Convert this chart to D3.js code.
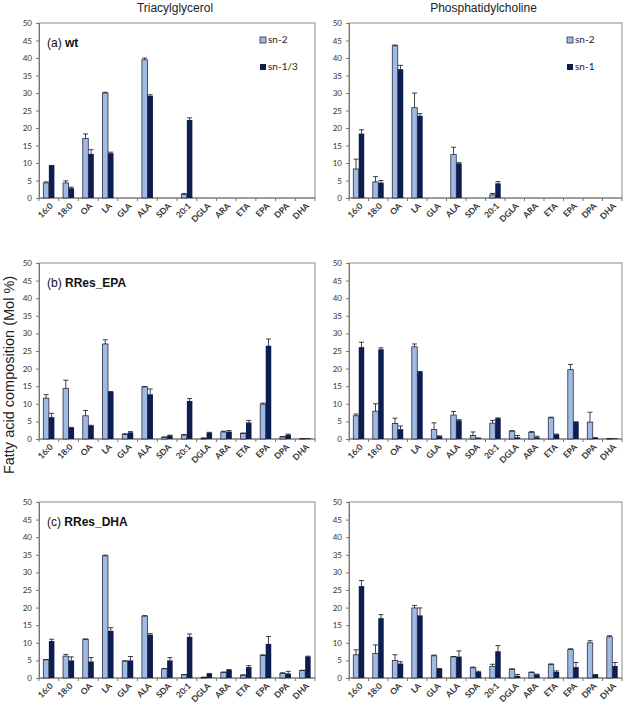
<!DOCTYPE html>
<html><head><meta charset="utf-8">
<script src="https://cdn.jsdelivr.net/npm/d3@7"></script>
<style>body{margin:0;background:#fff}svg{display:block}</style>
</head><body>
<svg id="c" width="625" height="706"></svg>
<script>
const categories = ["16:0","18:0","OA","LA","GLA","ALA","SDA","20:1","DGLA","ARA","ETA","EPA","DPA","DHA"];
const yTicks = [0,5,10,15,20,25,30,35,40,45,50];
const colTitles = ["Triacylglycerol","Phosphatidylcholine"];
const legendTAG = ["sn-2","sn-1/3"];
const legendPC = ["sn-2","sn-1"];
const rowLabels = [["(a) ","wt"],["(b) ","RRes_EPA"],["(c) ","RRes_DHA"]];

// (a) wt
const wtTAG_sn2      = [4.3,4.3,17.0,30.0,0,39.5,0,1.0,0,0,0,0,0,0];
const wtTAG_sn2_err  = [0.3,0.6,1.3,0.2,0,0.5,0,0.3,0,0,0,0,0,0];
const wtTAG_sn13     = [9.3,2.8,12.6,12.8,0,29.2,0,22.3,0,0,0,0,0,0];
const wtTAG_sn13_err = [0,0.3,1.2,0.3,0,0.3,0,0.6,0,0,0,0,0,0];
const wtPC_sn2       = [8.3,4.6,43.5,25.8,0,12.4,0,0.9,0,0,0,0,0,0];
const wtPC_sn2_err   = [2.8,1.5,0.2,4.2,0,2.1,0,0.4,0,0,0,0,0,0];
const wtPC_sn1       = [18.4,4.4,36.8,23.5,0,9.9,0,4.2,0,0,0,0,0,0];
const wtPC_sn1_err   = [1.1,0.6,1.1,0.6,0,0.2,0,0.5,0,0,0,0,0,0];
// (b) RRes_EPA
const epaTAG_sn2      = [11.6,14.4,6.6,27.0,1.3,14.8,0.5,1.1,0.2,2.0,1.6,9.9,0.6,0.1];
const epaTAG_sn2_err  = [1.0,2.3,1.5,1.2,0.2,0.1,0.1,0.2,0.1,0.2,0.1,0.3,0.1,0];
const epaTAG_sn13     = [6.2,3.2,3.8,13.4,1.9,12.7,1.0,10.8,1.8,2.1,4.7,26.5,1.2,0.1];
const epaTAG_sn13_err = [1.1,0.1,0.1,0.1,0.2,1.5,0.1,0.7,0.1,0.3,0.6,1.9,0.2,0];
const epaPC_sn2       = [6.6,7.9,4.4,26.2,2.7,6.8,1.0,4.5,2.2,1.9,6.0,19.7,4.8,0.1];
const epaPC_sn2_err   = [0.5,2.1,1.5,0.8,1.9,1.0,1.0,0.8,0.2,0.2,0.2,1.5,2.8,0];
const epaPC_sn1       = [26.1,25.5,2.8,19.1,0.8,5.3,0.2,5.9,0.5,0.5,1.3,4.8,0.3,0.1];
const epaPC_sn1_err   = [1.4,0.4,0.9,0.1,0.1,0.2,0.1,0.1,0.5,0.3,0.1,0.1,0.1,0];
// (c) RRes_DHA
const dhaTAG_sn2      = [5.2,6.2,11.0,34.7,4.8,17.6,2.6,0.9,0.2,1.6,0.8,6.4,1.3,2.1];
const dhaTAG_sn2_err  = [0,0.5,0.1,0.2,0.1,0.1,0.1,0.1,0,0.1,0.1,0.2,0.2,0.1];
const dhaTAG_sn13     = [10.5,5.0,4.7,13.4,5.0,12.3,5.0,11.7,1.2,2.3,3.1,9.7,1.3,6.1];
const dhaTAG_sn13_err = [0.5,1.0,1.1,0.9,1.1,0.3,0.8,0.8,0.1,0.1,0.4,2.1,0.6,0.1];
const dhaPC_sn2       = [6.6,7.0,5.0,19.9,6.3,6.0,2.9,3.3,2.5,1.6,3.8,8.1,10.0,11.7];
const dhaPC_sn2_err   = [1.4,2.4,1.6,0.7,0.2,0.1,0.2,0.6,0.1,0.1,0.2,0.2,0.6,0.3];
const dhaPC_sn1       = [26.1,17.0,4.1,17.8,2.6,6.1,1.7,7.6,0.6,1.0,1.7,3.1,0.9,3.4];
const dhaPC_sn1_err   = [1.6,1.0,0.5,2.1,0.1,1.6,0.2,1.6,0.4,0.1,0.3,1.3,0.1,1.0];

const panels = [
  {row:0,col:0,a:wtTAG_sn2,ae:wtTAG_sn2_err,b:wtTAG_sn13,be:wtTAG_sn13_err,legend:legendTAG},
  {row:0,col:1,a:wtPC_sn2,ae:wtPC_sn2_err,b:wtPC_sn1,be:wtPC_sn1_err,legend:legendPC},
  {row:1,col:0,a:epaTAG_sn2,ae:epaTAG_sn2_err,b:epaTAG_sn13,be:epaTAG_sn13_err},
  {row:1,col:1,a:epaPC_sn2,ae:epaPC_sn2_err,b:epaPC_sn1,be:epaPC_sn1_err},
  {row:2,col:0,a:dhaTAG_sn2,ae:dhaTAG_sn2_err,b:dhaTAG_sn13,be:dhaTAG_sn13_err},
  {row:2,col:1,a:dhaPC_sn2,ae:dhaPC_sn2_err,b:dhaPC_sn1,be:dhaPC_sn1_err}
];

const svg = d3.select("#c");
const colX = [[39,315],[349,622]];
const rowY = [[23,198],[263,439],[502,678]];
const lightFill = "#9fbbe4", lightStroke = "#2c2c44", darkFill = "#0d1d4f";
const tickFont = "Lato, 'Open Sans', sans-serif";

// column titles
colTitles.forEach((t,i)=>{
  svg.append("text").attr("x",(colX[i][0]+colX[i][1])/2-2).attr("y",12)
    .attr("text-anchor","middle").attr("font-family","'Liberation Sans', Arial, sans-serif")
    .attr("font-size",12).attr("fill","#222").text(t);
});
// y label
svg.append("text").attr("transform","translate(14,375) rotate(-90)")
  .attr("text-anchor","middle").attr("font-family","'Liberation Sans', Arial, sans-serif")
  .attr("font-size",14.5).attr("fill","#222").text("Fatty acid composition (Mol %)");

panels.forEach(p=>{
  const [x0,x1] = colX[p.col], [y0,y1] = rowY[p.row];
  const x = d3.scaleBand().domain(categories).range([x0,x1]);
  const y = d3.scaleLinear().domain([0,50]).range([y1,y0]);
  const g = svg.append("g");
  const bw = x.bandwidth()*0.28;

  // frame
  g.append("rect").attr("x",x0).attr("y",y0).attr("width",x1-x0).attr("height",y1-y0)
    .attr("fill","none").attr("stroke","#8c8c8c").attr("stroke-width",1);

  // y axis
  const ya = g.append("g").attr("transform",`translate(${x0},0)`)
    .call(d3.axisLeft(y).tickValues(yTicks).tickSize(3).tickPadding(4));
  ya.select(".domain").attr("stroke","#777");
  ya.selectAll(".tick line").attr("stroke","#777");
  ya.selectAll("text").attr("font-family",tickFont).attr("font-size",8).attr("fill","#333");

  // x axis: ticks at boundaries
  g.append("line").attr("x1",x0).attr("x2",x1).attr("y1",y1).attr("y2",y1).attr("stroke","#777");
  const bounds = categories.map(c=>x(c)).concat([x1]);
  g.selectAll(".xt").data(bounds).join("line")
    .attr("x1",d=>d).attr("x2",d=>d).attr("y1",y1).attr("y2",y1+3).attr("stroke","#777");
  g.selectAll(".xl").data(categories).join("text")
    .attr("transform",c=>`translate(${x(c)+x.bandwidth()/2+3},${y1+7}) rotate(-45)`)
    .attr("text-anchor","end").attr("dominant-baseline","middle")
    .attr("font-family",tickFont).attr("font-weight","bold").attr("font-size",8.5).attr("fill","#333")
    .text(c=>c);

  const cx = c=>x(c)+x.bandwidth()/2;
  // light bars
  g.selectAll(".ba").data(categories).join("rect")
    .attr("x",c=>cx(c)-bw).attr("width",bw)
    .attr("y",(c,i)=>y(p.a[i])).attr("height",(c,i)=>y(0)-y(p.a[i]))
    .attr("fill",lightFill).attr("stroke",lightStroke).attr("stroke-width",(c,i)=>p.a[i]>0?0.8:0);
  g.selectAll(".bb").data(categories).join("rect")
    .attr("x",c=>cx(c)).attr("width",bw)
    .attr("y",(c,i)=>y(p.b[i])).attr("height",(c,i)=>y(0)-y(p.b[i]))
    .attr("fill",darkFill);

  // error bars
  const errs = [];
  categories.forEach((c,i)=>{
    if (p.a[i]>0) errs.push({xc:cx(c)-bw/2, v:p.a[i], e:p.ae[i]});
    if (p.b[i]>0) errs.push({xc:cx(c)+bw/2, v:p.b[i], e:p.be[i]});
  });
  g.selectAll(".ev").data(errs).join("line")
    .attr("x1",d=>d.xc).attr("x2",d=>d.xc).attr("y1",d=>y(d.v)).attr("y2",d=>y(d.v+d.e))
    .attr("stroke","#111").attr("stroke-width",0.8);
  g.selectAll(".ec").data(errs).join("line")
    .attr("x1",d=>d.xc-2.5).attr("x2",d=>d.xc+2.5).attr("y1",d=>y(d.v+d.e)).attr("y2",d=>y(d.v+d.e))
    .attr("stroke","#111").attr("stroke-width",0.8);

  // row label on left panels
  if (p.col===0) {
    const t = g.append("text").attr("x",x0+8).attr("y",y0+24)
      .attr("font-family","'Liberation Sans', Arial, sans-serif").attr("font-size",12).attr("fill","#111");
    t.append("tspan").text(rowLabels[p.row][0]);
    t.append("tspan").attr("font-weight","bold").text(rowLabels[p.row][1]);
  }
  // legend
  if (p.legend) {
    const lx = x1 - 55;
    [[lightFill,lightStroke],[darkFill,"none"]].forEach((s,i)=>{
      const ly = y0 + 17 + i*27;
      g.append("rect").attr("x",lx).attr("y",ly-3).attr("width",6).attr("height",6)
        .attr("fill",s[0]).attr("stroke",s[1]).attr("stroke-width",0.8);
      g.append("text").attr("x",lx+8).attr("y",ly).attr("dominant-baseline","middle")
        .attr("font-family",tickFont).attr("font-size",10).attr("fill","#222").text(p.legend[i]);
    });
  }
});
</script>
</body></html>
